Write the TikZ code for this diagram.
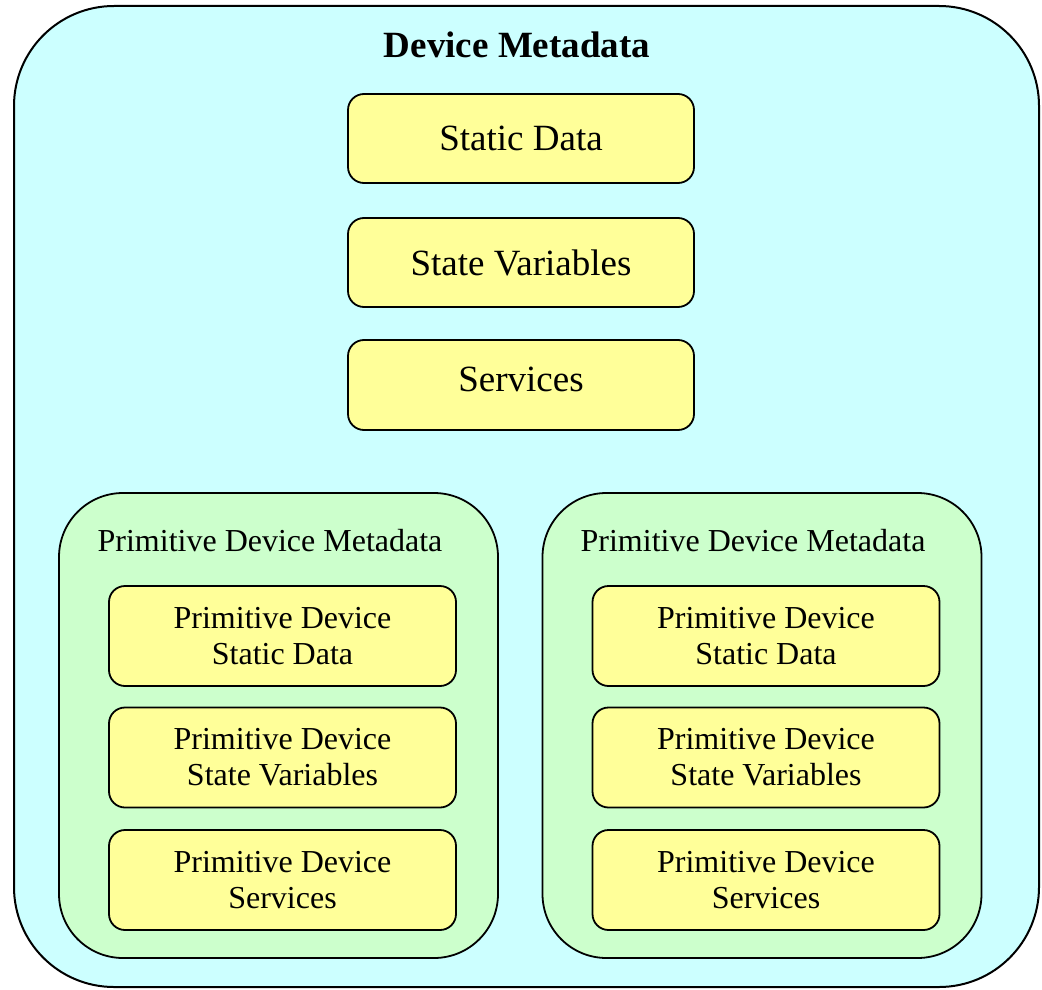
\documentclass[tikz,border=0pt]{standalone}
\usepackage{tikz}
\usetikzlibrary{positioning}
\usepackage{fontspec}
\setmainfont{Liberation Serif}
\usepackage{color}
\definecolor{paleaqua}{RGB}{204, 255, 255}
\definecolor{palemint}{RGB}{204, 255, 204}
\definecolor{paleyellow}{RGB}{255, 255, 153}

\tikzset{
    outerbox/.style={draw=black, line width=1pt, fill=paleaqua, rounded corners=50pt,
                     minimum width=512.5pt, minimum height=490.5pt, inner sep=0pt},
    groupbox/.style={draw=black, line width=0.9pt, fill=palemint, rounded corners=32pt,
                     minimum width=219.5pt, minimum height=232.5pt, inner sep=0pt},
    itembox/.style={draw=black, line width=0.9pt, fill=paleyellow, rounded corners=8pt,
                    minimum width=173pt, minimum height=44.5pt, inner sep=0pt,
                    font=\fontsize{18.5}{21}\selectfont},
    subbox/.style={draw=black, line width=0.9pt, fill=paleyellow, rounded corners=8pt,
                   minimum width=173.5pt, minimum height=50pt, inner sep=0pt, align=center,
                   font=\fontsize{16}{18}\selectfont},
    grouptitle/.style={font=\fontsize{16}{18}\selectfont, inner sep=0pt}
}

\begin{document}
\begin{tikzpicture}[x=0.5pt, y=-0.5pt]
        \useasboundingbox (0,0) rectangle (1042,989);
            \node[outerbox]                                        (device)  at (526.5, 496.5) {};
            \node[font=\fontsize{18.5}{21}\selectfont\bfseries]    (devtitle) at (517.0,  45.0) {Device Metadata};
            \node[itembox]                                         (static)  at (521.0, 138.5) {Static Data};
            \node[itembox]                                         (state)   at (521.0, 262.5) {State Variables};
            \node[itembox, minimum height=45pt, text depth=6pt]    (serv)    at (521.0, 385.0) {Services};
            % primitive devices
            \node[groupbox]                                        (primA)   at (278.5, 725.5) {};
            \node[groupbox]                                        (primB)   at (762.0, 725.5) {};
            \node[grouptitle]                                      (primAt)  at (270.0, 541.0) {Primitive Device Metadata};
            \node[grouptitle]                                      (primBt)  at (753.0, 541.0) {Primitive Device Metadata};
            \node[subbox]                                          (pAstat)  at (282.5, 636.0) {Primitive Device\\Static Data};
            \node[subbox]                                          (pAstate) at (282.5, 757.5) {Primitive Device\\State Variables};
            \node[subbox]                                          (pAserv)  at (282.5, 880.0) {Primitive Device\\Services};
            \node[subbox]                                          (pBstat)  at (766.0, 636.0) {Primitive Device\\Static Data};
            \node[subbox]                                          (pBstate) at (766.0, 757.5) {Primitive Device\\State Variables};
            \node[subbox]                                          (pBserv)  at (766.0, 880.0) {Primitive Device\\Services};
        \end{tikzpicture}
\end{document}
